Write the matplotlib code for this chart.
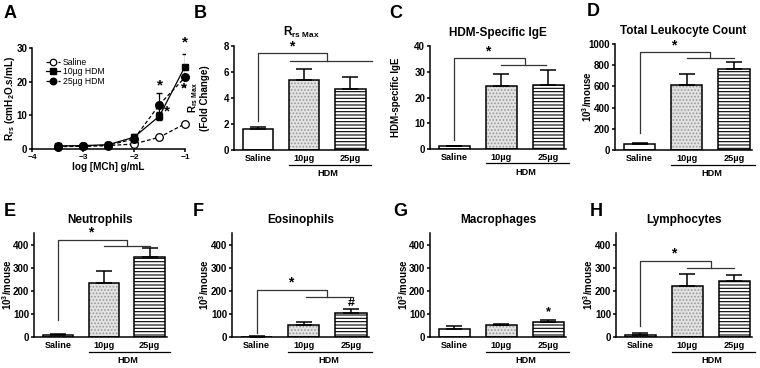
import numpy as np
import matplotlib
matplotlib.use('Agg')
import matplotlib.pyplot as plt

plt.rcParams['font.family'] = ['Liberation Sans', 'DejaVu Sans']
plt.rcParams['font.weight'] = 'bold'
plt.rcParams['mathtext.fontset'] = 'custom'
plt.rcParams['mathtext.rm'] = 'Liberation Sans:bold'
plt.rcParams['mathtext.it'] = 'Liberation Sans:bold'
plt.rcParams['mathtext.bf'] = 'Liberation Sans:bold'
plt.rcParams['mathtext.default'] = 'bf'
plt.rcParams['hatch.linewidth'] = 0.8

# ---- panel A data: airway resistance vs methacholine
log_mch = [-3.5, -3.0, -2.5, -2.0, -1.5, -1.0]
rrs_saline = [0.8, 0.9, 1.0, 1.5, 3.5, 7.5]
rrs_saline_err = [0.1, 0.1, 0.2, 0.3, 0.4, 0.5]
rrs_10 = [0.9, 1.0, 1.3, 3.5, 9.8, 24.5]
rrs_10_err = [0.2, 0.2, 0.3, 1.0, 1.2, 3.8]
rrs_25 = [0.7, 0.8, 1.1, 3.0, 13.2, 21.3]
rrs_25_err = [0.1, 0.1, 0.2, 0.6, 3.3, 2.5]

groups = ['Saline', '10\u00b5g', '25\u00b5g']

# ---- bar panels (mean, sem)
rrs_max = [1.65, 5.4, 4.7]
rrs_max_err = [0.15, 0.85, 0.9]
ige = [1.0, 24.5, 25.0]
ige_err = [0.2, 4.7, 5.5]
leuko = [60, 615, 760]
leuko_err = [10, 105, 70]
neutro = [9, 234, 346]
neutro_err = [5, 52, 38]
eosino = [2, 52, 105]
eosino_err = [0.5, 13, 14]
macro = [36, 53, 67]
macro_err = [10, 4, 7]
lympho = [10, 221, 243]
lympho_err = [6, 53, 26]

W, H = 760, 368
fig = plt.figure(figsize=(W / 100, H / 100), dpi=100)


def rect(l, r, t, b):
    return [l / W, 1 - b / H, (r - l) / W, (b - t) / H]


def style(ax):
    for s in ['top', 'right']:
        ax.spines[s].set_visible(False)
    for s in ['left', 'bottom']:
        ax.spines[s].set_linewidth(1.1)
    ax.tick_params(axis='y', length=2.5, width=1.1, labelsize=7, pad=1)


def letter(x, y, s):
    fig.text(x / W, 1 - y / H, s, fontsize=13, fontweight='bold', va='center', ha='left')


BW = 0.66


def bar_panel(pos, means, errs, ymax, yticks, title, ylabel, ylab_x, brk=None, extra=None):
    ax = fig.add_axes(rect(*pos))
    style(ax)
    x = np.arange(3)
    ax.bar(x[0], means[0], BW, color='white', edgecolor='black', lw=1.1, zorder=2)
    ax.bar(x[1], means[1], BW, color='#e2e2e2', edgecolor='#9a9a9a', hatch='.....', lw=0, zorder=2)
    ax.bar(x[1], means[1], BW, fill=False, edgecolor='black', lw=1.1, zorder=3)
    ax.bar(x[2], means[2], BW, color='white', edgecolor='black', hatch='-----', lw=1.1, zorder=2)
    ax.errorbar(x, means, yerr=[np.zeros(3), errs], fmt='none', ecolor='black',
                capsize=6, elinewidth=1.1, capthick=1.1, zorder=4)
    ax.set_xlim(-0.52, 2.38)
    ax.set_ylim(0, ymax)
    ax.set_yticks(yticks)
    ax.set_xticks(x)
    ax.set_xticklabels(groups, fontsize=6.6)
    ax.tick_params(axis='x', length=0, pad=3)
    ax.set_title(title, fontsize=8.5, fontweight='bold', pad=7)
    ax.set_ylabel(ylabel, fontsize=7, fontweight='bold', linespacing=1.0)
    ax.yaxis.set_label_coords(ylab_x, 0.5)
    # HDM group line
    tr = ax.get_xaxis_transform()
    ax.plot([1 - BW / 2, 2.45], [-0.14, -0.14], color='black', lw=0.9, transform=tr, clip_on=False)
    ax.text(1.52, -0.225, 'HDM', transform=tr, ha='center', va='center', fontsize=6.6)
    if brk:
        y0, ytop, ylow, lx = brk
        c = '#333333'
        ax.plot([0, 0, 1.5, 1.5], [y0, ytop, ytop, ylow], color=c, lw=0.9, clip_on=False)
        ax.plot([lx[0], lx[1]], [ylow, ylow], color=c, lw=0.9, clip_on=False)
        ax.text(0.72, ytop, '*', ha='center', va='bottom', fontsize=10, clip_on=False)
    if extra:
        for xs, ys, s in extra:
            ax.text(xs, ys, s, ha='center', va='center', fontsize=9)
    return ax


# ---- A
axA = fig.add_axes(rect(32, 185, 48, 149))
style(axA)
axA.errorbar(log_mch, rrs_saline, yerr=rrs_saline_err, fmt='none', ecolor='black', capsize=2.5, elinewidth=0.9)
axA.errorbar(log_mch, rrs_10, yerr=rrs_10_err, fmt='none', ecolor='black', capsize=2.5, elinewidth=0.9)
axA.errorbar(log_mch, rrs_25, yerr=rrs_25_err, fmt='none', ecolor='black', capsize=2.5, elinewidth=0.9)
axA.plot(log_mch, rrs_saline, color='black', lw=0.9, dashes=(3, 1.8), marker='o', ms=5.5,
         mfc='white', mec='black', mew=0.9, label='Saline', clip_on=False, zorder=3)
axA.plot(log_mch, rrs_25, color='black', lw=0.9, dashes=(3, 1.8), marker='o', ms=5.5,
         mfc='black', mec='black', label='25\u00b5g HDM', clip_on=False, zorder=4)
axA.plot(log_mch, rrs_10, color='black', lw=0.9, marker='s', ms=5,
         mfc='black', mec='black', label='10\u00b5g HDM', clip_on=False, zorder=5)
axA.set_xlim(-4, -1)
axA.set_ylim(0, 30)
axA.set_xticks([-4, -3, -2, -1])
axA.set_yticks([0, 10, 20, 30])
axA.tick_params(axis='x', length=2.5, width=1.1, labelsize=6, pad=1)
axA.set_xlabel('log [MCh] g/mL', fontsize=7.2, fontweight='bold', labelpad=0.5)
axA.set_ylabel(r'R$_{rs}$ (cmH$_2$O.s/mL)', fontsize=7.2, fontweight='bold')
axA.yaxis.set_label_coords(-0.10, 0.5)
h, l = axA.get_legend_handles_labels()
axA.legend([h[0], h[2], h[1]], [l[0], l[2], l[1]], loc='upper left', bbox_to_anchor=(0.05, 0.96),
           frameon=False, prop={'size': 6.2, 'weight': 'normal'}, handlelength=1.7,
           handletextpad=0.3, labelspacing=0.05, borderpad=0.2, markerscale=0.85)
for xs, ys in [(-1.5, 19.0), (-1.35, 11.0), (-1.0, 31.5), (-1.02, 18.0)]:
    axA.text(xs, ys, '*', ha='center', va='center', fontsize=11, clip_on=False)
letter(4, 13, 'A')

# ---- B .. H
bar_panel((234, 368, 46, 150), rrs_max, rrs_max_err, 8, [0, 2, 4, 6, 8],
          r'R$_{rs\ Max}$', 'R$_{rs\\ Max}$\n(Fold Change)', -0.18,
          brk=(2.2, 7.45, 6.85, (0.69, 2.47)))
letter(194, 13, 'B')

bar_panel((430, 566, 46, 149), ige, ige_err, 40, [0, 10, 20, 30, 40],
          'HDM-Specific IgE', 'HDM-specific IgE', -0.21,
          brk=(3.6, 35.2, 32.6, (1.0, 1.95)))
letter(389, 13, 'C')

bar_panel((615, 752, 44, 150), leuko, leuko_err, 1000, [0, 200, 400, 600, 800, 1000],
          'Total Leukocyte Count', '10$^3$/mouse', -0.155,
          brk=(158, 924, 868, (1.0, 2.0)))
letter(587, 12, 'D')

bar_panel((34, 167, 233, 337), neutro, neutro_err, 450, [0, 100, 200, 300, 400],
          'Neutrophils', '10$^3$/mouse', -0.15,
          brk=(74, 420, 393, (1.0, 2.0)))
letter(4, 211, 'E')

bar_panel((232, 369, 233, 337), eosino, eosino_err, 450, [0, 100, 200, 300, 400],
          'Eosinophils', '10$^3$/mouse', -0.15,
          brk=(17, 204, 173, (1.05, 2.02)), extra=[(2, 145, '#')])
letter(193, 212, 'F')

bar_panel((430, 566, 233, 337), macro, macro_err, 450, [0, 100, 200, 300, 400],
          'Macrophages', '10$^3$/mouse', -0.15,
          extra=[(2, 108, '*')])
letter(393, 212, 'G')

bar_panel((616, 752, 233, 337), lympho, lympho_err, 450, [0, 100, 200, 300, 400],
          'Lymphocytes', '10$^3$/mouse', -0.155,
          brk=(46, 329, 300, (1.0, 2.0)))
letter(590, 212, 'H')

fig.savefig('out.png', dpi=100)
